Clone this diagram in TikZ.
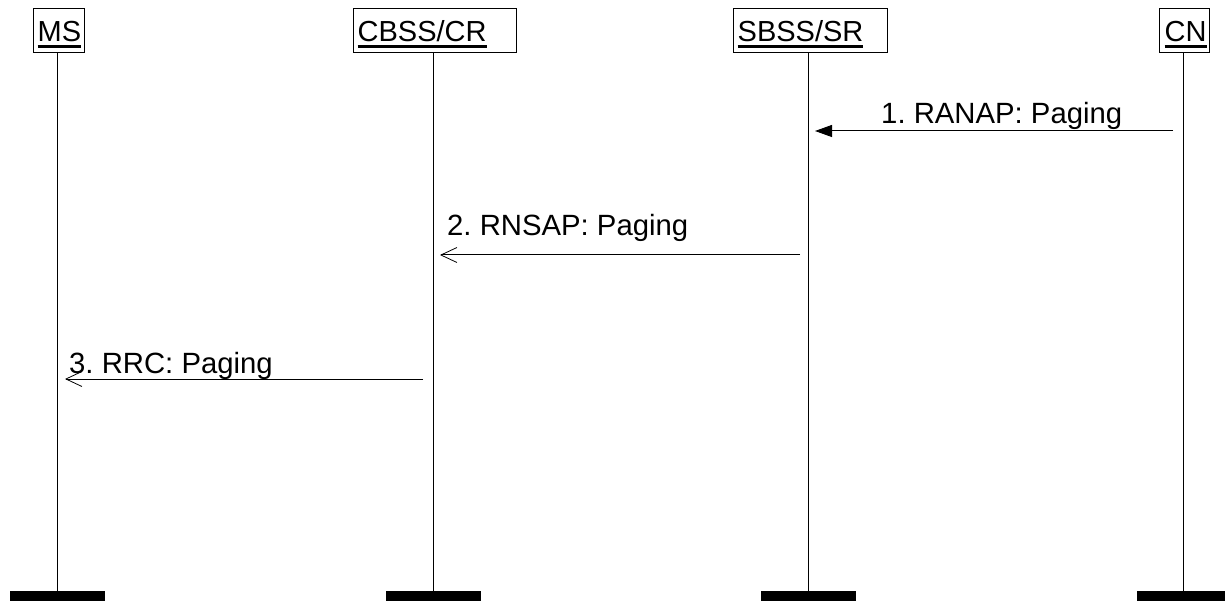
\documentclass[tikz,border=0pt]{standalone}
\usepackage{fontspec}
\setmainfont{Liberation Sans}
\frenchspacing
\usetikzlibrary{arrows.meta}
\newcommand\ulbox[1]{\setbox0\hbox{#1}\rlap{\rule[-6pt]{\wd0}{3pt}}\box0}
\tikzset{
  entity/.style={draw=black, line width=1pt, minimum height=44pt, inner sep=0pt},
  etext/.style={anchor=base west, inner sep=0pt, font=\fontsize{29}{34}\selectfont},
  bar/.style={fill=black, draw=none, minimum width=95pt, minimum height=10pt, inner sep=0pt, anchor=north},
  life/.style={line width=1pt, black},
  msgtext/.style={anchor=base west, inner sep=0pt, font=\fontsize{29.3}{34}\selectfont},
  msgfill/.style={line width=1pt, -{Triangle[length=17pt,width=12pt]}},
  msgopen/.style={line width=1pt, -{Straight Barb[length=16pt,width=15pt,line width=0.8pt]}},
}
\begin{document}
\begin{tikzpicture}[x=1pt,y=-1pt]
\useasboundingbox (0,0) rectangle (1225,601);
% entity boxes
\node[entity, minimum width=51pt] (ms) at (58.5,31) {};
\node[entity, minimum width=163pt] (cbss) at (434.5,31) {};
\node[entity, minimum width=154pt] (sbss) at (810,31) {};
\node[entity, minimum width=50pt] (cn) at (1184,31) {};
\node[etext] (mst) at ([xshift=5pt]ms.west |- 0,42) {\ulbox{MS}};
\node[etext] (cbsst) at ([xshift=5pt]cbss.west |- 0,42) {\ulbox{CBSS/CR}};
\node[etext] (sbsst) at ([xshift=5pt]sbss.west |- 0,42) {\ulbox{SBSS/SR}};
\node[etext] (cnt) at ([xshift=6pt]cn.west |- 0,42) {\ulbox{CN}};
% bottom bars
\node[bar] (msbar) at (57.5,591) {};
\node[bar] (cbssbar) at (433.5,591) {};
\node[bar] (sbssbar) at (808.5,591) {};
\node[bar] (cnbar) at (1184.5,591) {};
% lifelines
\coordinate (msl) at (57,53);
\coordinate (cbssl) at (433,53);
\coordinate (sbssl) at (808,53);
\coordinate (cnl) at (1183,53);
\draw[life] (msl) -- (msl |- msbar.north);
\draw[life] (cbssl) -- (cbssl |- cbssbar.north);
\draw[life] (sbssl) -- (sbssl |- sbssbar.north);
\draw[life] (cnl) -- (cnl |- cnbar.north);
% messages
\coordinate (m1a) at (cnl |- 0,131);
\coordinate (m1b) at (sbssl |- 0,131);
\draw[msgfill] ([xshift=-10pt]m1a) -- ([xshift=7pt]m1b);
\node[msgtext] (l1) at (881,124) {1. RANAP: Paging};
\coordinate (m2a) at (sbssl |- 0,255);
\coordinate (m2b) at (cbssl |- 0,255);
\draw[msgopen] ([xshift=-8pt]m2a) -- ([xshift=7pt]m2b);
\node[msgtext] (l2) at (447,236) {2. RNSAP: Paging};
\coordinate (m3a) at (cbssl |- 0,379);
\coordinate (m3b) at (msl |- 0,379);
\draw[msgopen] ([xshift=-10pt]m3a) -- ([xshift=8pt]m3b);
\node[msgtext] (l3) at (69,373) {3. RRC: Paging};
\end{tikzpicture}
\end{document}
